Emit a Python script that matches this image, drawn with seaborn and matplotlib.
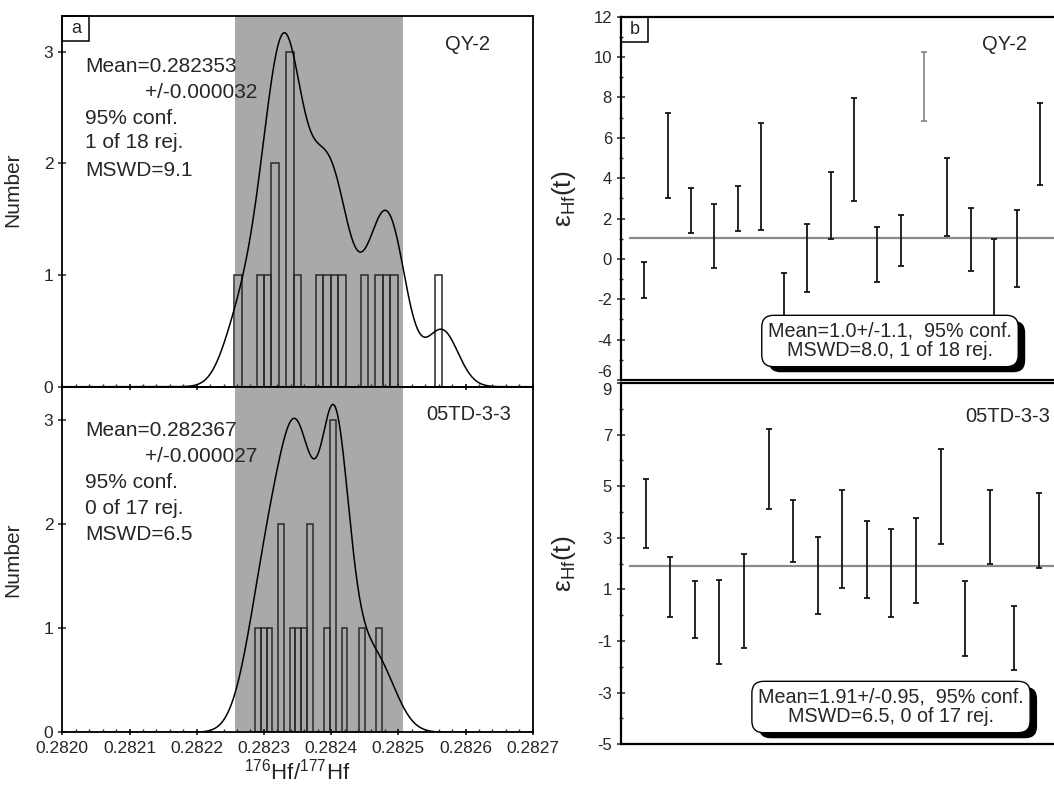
import numpy as np
import matplotlib
matplotlib.use("Agg")
import matplotlib.pyplot as plt
import matplotlib.patheffects as pe
from matplotlib.patches import Rectangle
from matplotlib.ticker import MultipleLocator, FixedLocator, FormatStrFormatter
import seaborn as sns

# 176Hf/177Hf of each grain and its 1s error (a: histograms + probability curves)
qy2_ratio = [0.2822616, 0.2822953, 0.2823066, 0.2823210, 0.2823210,
             0.2823388, 0.2823388, 0.2823388, 0.2823552, 0.2823783,
             0.2823894, 0.2824051, 0.2824162, 0.2824490, 0.2824751,
             0.2824864, 0.2824976, 0.2825651]
qy2_sigma = [0.0000238, 0.0000238, 0.0000238, 0.0000238, 0.0000238,
             0.0000238, 0.0000238, 0.0000238, 0.0000238, 0.0000208,
             0.0000208, 0.0000208, 0.0000208, 0.0000238, 0.0000238,
             0.0000238, 0.0000238, 0.0000238]
td_ratio = [0.2822912, 0.2823000, 0.2823088, 0.2823263, 0.2823263,
            0.2823439, 0.2823527, 0.2823615, 0.2823679, 0.2823679,
            0.2823966, 0.2824054, 0.2824054, 0.2824054, 0.2824229,
            0.2824493, 0.2824756]
td_sigma = [0.0000268, 0.0000268, 0.0000268, 0.0000238, 0.0000238,
            0.0000208, 0.0000208, 0.0000208, 0.0000300, 0.0000300,
            0.0000208, 0.0000193, 0.0000193, 0.0000193, 0.0000208,
            0.0000268, 0.0000268]
hist_bins = [(0.282256, 0.00001124), (0.2822868, 0.00000878)]  # first edge, width
curve_peak = [3.17, 3.15]
band = (0.282257, 0.282507)

# eHf(t) with 2s errors (b: weighted means)
qy2_ehf = [-1.05, 5.12, 2.40, 1.13, 2.48, 4.10, -1.91, 0.04, 2.64, 5.43,
           0.22, 0.90, 8.54, 3.05, 0.98, -1.00, 0.52, 5.71]
qy2_err = [0.88, 2.10, 1.13, 1.59, 1.11, 2.65, 1.23, 1.69, 1.65, 2.54,
           1.34, 1.26, 1.70, 1.94, 1.56, 1.97, 1.92, 2.03]
qy2_rejected = [13]
td_ehf = [3.94, 1.09, 0.21, -0.26, 0.56, 5.66, 3.27, 1.53, 2.95, 2.17,
          1.65, 2.12, 4.59, -0.12, 3.42, -0.88, 3.29]
td_err = [1.35, 1.17, 1.11, 1.63, 1.82, 1.55, 1.21, 1.50, 1.89, 1.49,
          1.71, 1.64, 1.84, 1.46, 1.45, 1.25, 1.46]
td_rejected = []
means = [1.04, 1.91]

samples = ["QY-2", "05TD-3-3"]
hist_notes = [("Mean=0.282353", "+/-0.000032", "95% conf.", "1 of 18 rej.", "MSWD=9.1"),
              ("Mean=0.282367", "+/-0.000027", "95% conf.", "0 of 17 rej.", "MSWD=6.5")]
box_notes = ["Mean=1.0+/-1.1,  95% conf.\nMSWD=8.0, 1 of 18 rej.",
             "Mean=1.91+/-0.95,  95% conf.\nMSWD=6.5, 0 of 17 rej."]
ehf_ticks = [np.arange(-6, 13, 2), np.arange(-5, 10, 2)]

sns.set_style("ticks")
plt.rcParams["font.family"] = ["Liberation Sans", "DejaVu Sans"]
plt.rcParams["mathtext.fontset"] = "custom"
plt.rcParams["mathtext.rm"] = "Liberation Sans"
plt.rcParams["mathtext.it"] = "Liberation Sans:italic"
plt.rcParams["axes.unicode_minus"] = False

W, H = 1054, 789
fig = plt.figure(figsize=(W / 100, H / 100), dpi=100)


def fig_box(x0, y0, x1, y1):
    # pixel box (top-left origin) -> figure fraction rect
    return [x0 / W, 1 - y1 / H, (x1 - x0) / W, (y1 - y0) / H]


left_axes = [fig.add_axes(fig_box(62.3, 16, 532.7, 386.7)),
             fig.add_axes(fig_box(62.3, 386.7, 532.7, 732.3))]
right_axes = [fig.add_axes(fig_box(621, 16.7, 1054, 380)),
              fig.add_axes(fig_box(621, 383, 1054, 744.3))]

# ---- left: histograms with relative probability curve
ratios = [qy2_ratio, td_ratio]
sigmas = [qy2_sigma, td_sigma]
grid = np.linspace(0.2820, 0.2827, 1400)
for k, ax in enumerate(left_axes):
    vals = np.array(ratios[k])
    sig = np.array(sigmas[k])
    start, width = hist_bins[k]
    ax.axvspan(band[0], band[1], color="#a9a9a9", lw=0, zorder=0)
    sns.histplot(x=vals, binwidth=width, binrange=(start, vals.max() + width),
                 fill=False, color="#2a2a2a", linewidth=1.1, ax=ax, zorder=2)
    z = (grid[:, None] - vals[None, :]) / sig[None, :]
    dens = (np.exp(-0.5 * z ** 2) / sig[None, :]).sum(axis=1)
    ax.plot(grid, dens / dens.max() * curve_peak[k], color="black", lw=1.1, zorder=3)

    ax.set_xlim(0.2820, 0.2827)
    ax.set_ylim(0, 3.32)
    ax.xaxis.set_major_locator(MultipleLocator(0.0001))
    ax.xaxis.set_minor_locator(MultipleLocator(0.00002))
    ax.xaxis.set_major_formatter(FormatStrFormatter("%.4f"))
    ax.yaxis.set_major_locator(MultipleLocator(1))
    ax.tick_params(axis="x", which="major", direction="inout", length=5, width=1.1,
                   labelsize=12.5, color="black")
    ax.tick_params(axis="x", which="minor", direction="in", length=2.5, width=1.0)
    ax.tick_params(axis="y", which="major", direction="inout", length=6, width=1.1,
                   labelsize=12.5)
    ax.set_ylabel("Number", fontsize=15)
    ax.yaxis.set_label_coords(-0.085, 0.53 if k == 0 else 0.5)
    for s in ax.spines.values():
        s.set_linewidth(1.3)
        s.set_color("black")
    ax.set_facecolor("none")

    y_lines = [(67, 92, 118, 143, 170), (430, 457, 483, 508, 534)][k]
    notes = hist_notes[k]
    for j, txt in enumerate(notes):
        if j == 1:
            fig.text(257 / W, 1 - y_lines[j] / H, txt, ha="right", va="center", fontsize=15)
        else:
            fig.text(85 / W, 1 - y_lines[j] / H, txt, ha="left", va="center", fontsize=15)
    name_xy = [(490, 45), (511, 415)][k]
    fig.text(name_xy[0] / W, 1 - name_xy[1] / H, samples[k], ha="right", va="center",
             fontsize=14.5)

left_axes[0].tick_params(axis="x", labelbottom=False)
left_axes[0].set_xlabel("")
left_axes[1].set_xlabel(r"$^{176}$Hf/$^{177}$Hf", fontsize=16, labelpad=2)

# ---- right: eHf(t) error bars
ehf = [qy2_ehf, td_ehf]
errs = [qy2_err, td_err]
rej = [qy2_rejected, td_rejected]
ylims = [(-6, 12), (-5, 9)]
xlims = [(0, 18.58), (0, 17.61)]
box_xy = [(890, 341), (891, 707)]
for k, ax in enumerate(right_axes):
    n = len(ehf[k])
    idx = np.arange(1, n + 1)
    vals = np.array(ehf[k])
    err = np.array(errs[k])
    keep = np.array([i not in rej[k] for i in idx])
    ax.hlines(means[k], 0.33, xlims[k][1], color="#8a8a8a", lw=1.6, zorder=1)
    ax.errorbar(idx[keep], vals[keep], yerr=err[keep], fmt="none", ecolor="#151515",
                elinewidth=1.3, capsize=2.3, capthick=1.3, zorder=3)
    if (~keep).any():
        ax.errorbar(idx[~keep], vals[~keep], yerr=err[~keep], fmt="none", ecolor="#8c8c8c",
                    elinewidth=1.3, capsize=2.3, capthick=1.3, zorder=3)
    ax.set_xlim(*xlims[k])
    ax.set_ylim(*ylims[k])
    ax.set_xticks([])
    ax.yaxis.set_major_locator(FixedLocator(ehf_ticks[k]))
    ax.yaxis.set_minor_locator(MultipleLocator(1))
    ax.tick_params(axis="y", which="major", direction="inout", length=6, width=1.1,
                   labelsize=12)
    ax.tick_params(axis="y", which="minor", direction="inout", length=3.5, width=1.0)
    ax.spines["right"].set_visible(False)
    for s in ["left", "top", "bottom"]:
        ax.spines[s].set_linewidth(1.6)
        ax.spines[s].set_color("black")
    ax.set_ylabel("ε$_{\\mathrm{Hf}}$(t)", fontsize=19)
    ax.yaxis.set_label_coords(-0.1, 0.5)

    t = fig.text(box_xy[k][0] / W, 1 - box_xy[k][1] / H, box_notes[k], ha="center",
                 va="center", fontsize=14.2, linespacing=1.05, zorder=2,
                 bbox=dict(boxstyle="round,pad=0.32,rounding_size=0.6", fc="white",
                           ec="black", lw=1.0))
    t.get_bbox_patch().set_path_effects([
        pe.SimplePatchShadow(offset=(5, -4), shadow_rgbFace="black", alpha=1.0),
        pe.Normal()])
    name_xy = [(1027, 45), (1050, 417)][k]
    fig.text(name_xy[0] / W, 1 - name_xy[1] / H, samples[k], ha="right", va="center",
             fontsize=14.5)

# the -6 / 9 labels meet at the panel join: push them apart
right_axes[0].yaxis.get_major_ticks()[0].label1.set_verticalalignment("bottom")
right_axes[1].yaxis.get_major_ticks()[-1].label1.set_verticalalignment("top")

# panel letters in corner boxes
for ax, letter, size in [(left_axes[0], "a", (27, 25)), (right_axes[0], "b", (27, 25))]:
    bb = ax.get_position()
    wpx, hpx = bb.width * W, bb.height * H
    ax.add_patch(Rectangle((0, 1), size[0] / wpx, -size[1] / hpx, transform=ax.transAxes,
                           fill=False, ec="black", lw=1.1, clip_on=False, zorder=5))
    ax.text(size[0] / wpx / 2, 1 - size[1] / hpx / 2, letter, transform=ax.transAxes,
            ha="center", va="center", fontsize=13)

fig.savefig("out.png", dpi=100)
